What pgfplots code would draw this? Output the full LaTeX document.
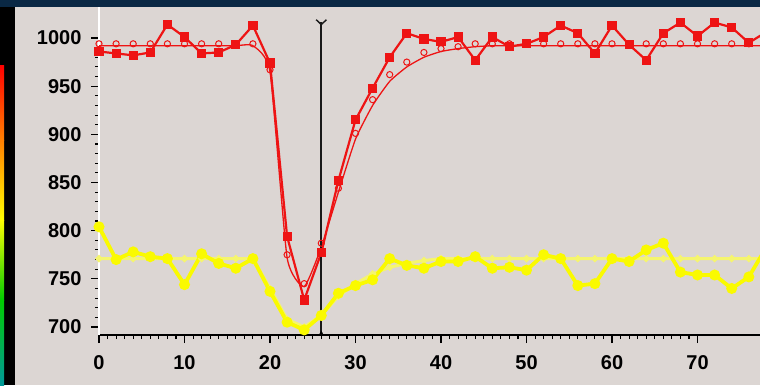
\documentclass[border=0pt]{standalone}
\usepackage{pgfplots}
\pgfplotsset{compat=1.18}
\usepackage{fontspec}
\setmainfont{Liberation Sans}
\definecolor{bg}{RGB}{220,214,211}
\definecolor{navy}{RGB}{10,40,68}
\definecolor{rd}{RGB}{238,20,20}
\definecolor{yl}{RGB}{250,250,0}
\definecolor{ylm}{RGB}{245,245,110}
\begin{document}
\begin{tikzpicture}[x=1bp,y=1bp]
\useasboundingbox (0,0) rectangle (760,385);
\clip (0,0) rectangle (760,385);
\fill[black] (0,0) rectangle (15,385);
\fill[navy] (0,378) rectangle (760,385);
\fill[bg] (15,0) rectangle (760,378);
\shade[top color=red,bottom color=orange] (0,245) rectangle (4,320);
\shade[top color=orange,bottom color=yellow] (0,165) rectangle (4,245);
\shade[top color=yellow,bottom color=green!80!black] (0,85) rectangle (4,165);
\shade[top color=green!80!black,bottom color=cyan!60!black] (0,0) rectangle (4,85);
\begin{axis}[
  at={(99bp,50bp)}, anchor=south west,
  scale only axis, width=661bp, height=328bp,
  xmin=0, xmax=77.31, ymin=691.7, ymax=1032.2,
  axis x line=bottom, axis y line=left,
  x axis line style={-, black, line width=1.3bp},
  y axis line style={-, white, line width=1.5bp},
  tick align=outside,
  xtick={0,10,...,70}, ytick={700,750,...,1000},
  minor x tick num=9, minor y tick num=4,
  major tick length=8bp, minor tick length=4bp,
  every tick/.style={black, line width=1.1bp},
  /pgf/number format/1000 sep={},
  /pgf/number format/assume math mode=true,
  every tick label/.append style={font=\fontsize{20bp}{20bp}\selectfont\bfseries},
  yticklabel style={xshift=-6bp},
  xticklabel style={yshift=-9bp},
]
% yellow model
\addplot[ylm, line width=3bp, mark=*, mark size=1.8bp, mark options={fill=ylm, draw=none}] coordinates {
(0,771) (2,771) (4,771) (6,771) (8,771) (10,771) (12,771) (14,771) (16,771) (18,771)
(20,740) (22,708) (24,700) (26,712) (28,732) (30,745) (32,755) (34,762) (36,766) (38,769)
(40,771) (42,771) (44,771) (46,771) (48,771) (50,771) (52,771) (54,771) (56,771) (58,771)
(60,771) (62,771) (64,771) (66,771) (68,771) (70,771) (72,771) (74,771) (76,771) (78,771)};
% yellow data
\addplot[yl, line width=3.8bp, mark=*, mark size=3.5bp, mark options={fill=yl, draw=none}] coordinates {
(0,804) (2,770) (4,778) (6,773) (8,771) (10,744) (12,776) (14,766) (16,761) (18,771)
(20,737) (22,705) (24,697) (26,712) (28,735) (30,743) (32,749) (34,771) (36,764) (38,761)
(40,768) (42,768) (44,773) (46,761) (48,762) (50,759) (52,775) (54,771) (56,743) (58,745)
(60,771) (62,768) (64,780) (66,787) (68,757) (70,754) (72,754) (74,740) (76,752) (78,782)};
% red model line
\addplot[rd, line width=1.3bp, smooth, tension=0.3] coordinates {
(0,992) (2,992) (4,992) (6,992) (8,992) (10,992) (12,992) (14,992) (16,992) (18,992)
(20,965) (22,772) (24,742) (26,783) (28,840) (30,895) (32,930) (34,955) (36,970) (38,980)
(40,986) (42,989) (44,991) (46,992) (48,992) (50,992) (52,992) (54,992) (56,992) (58,992)
(60,992) (62,992) (64,992) (66,992) (68,992) (70,992) (72,992) (74,992) (76,992) (78,992)};
% red model circles
\addplot[only marks, rd, mark=o, mark size=3.1bp, mark options={line width=1bp}] coordinates {
(0,994) (2,994) (4,994) (6,994) (8,994) (10,994) (12,994) (14,994) (16,994) (18,994)
(20,967) (22,775) (24,745) (26,787) (28,844) (30,901) (32,936) (34,962) (36,975) (38,985)
(40,989) (42,991) (44,994) (46,994) (48,994) (50,994) (52,994) (54,994) (56,994) (58,994)
(60,994) (62,994) (64,994) (66,994) (68,994) (70,994) (72,994) (74,994) (76,994) (78,994)};
% red data
\addplot[rd, line width=2.2bp, mark=square*, mark size=3.5bp, mark options={fill=rd, draw=rd}] coordinates {
(0,986) (2,984) (4,982) (6,985) (8,1014) (10,1001) (12,984) (14,985) (16,993) (18,1013)
(20,974) (22,794) (24,728) (26,777) (28,852) (30,915) (32,948) (34,980) (36,1005) (38,999)
(40,996) (42,1001) (44,977) (46,1001) (48,991) (50,994) (52,1001) (54,1013) (56,1005) (58,984)
(60,1013) (62,993) (64,977) (66,1005) (68,1016) (70,1002) (72,1016) (74,1011) (76,995) (78,1006)};
% cursor
\addplot[black!90, line width=2bp] coordinates {(26,691.7) (26,1017)};
\addplot[black!90, line width=1.4bp] coordinates {(25.4,1019) (26,1014) (26.6,1019)};
\addplot[only marks, black, mark=triangle*, mark size=2.5bp] coordinates {(26,693)};
\end{axis}
\end{tikzpicture}
\end{document}
